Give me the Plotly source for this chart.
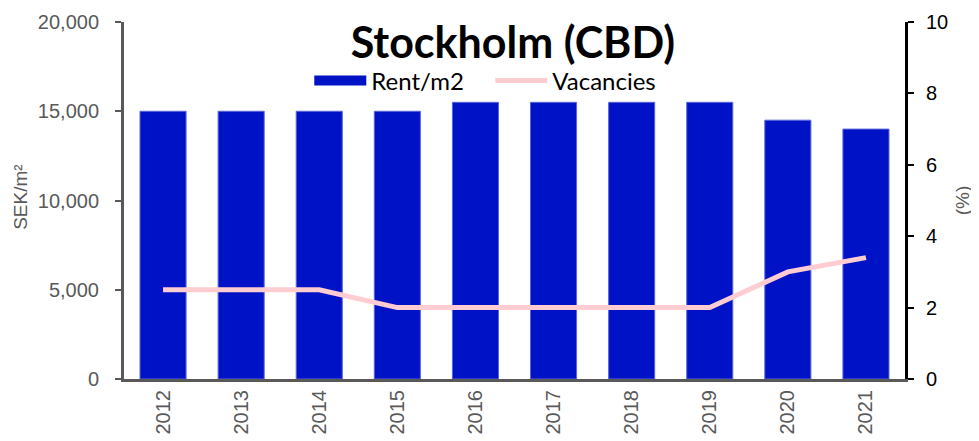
import plotly.graph_objects as go

years = ['2012', '2013', '2014', '2015', '2016', '2017', '2018', '2019', '2020', '2021']
rent = [15000, 15000, 15000, 15000, 15500, 15500, 15500, 15500, 14500, 14000]
vacancies = [2.5, 2.5, 2.5, 2.0, 2.0, 2.0, 2.0, 2.0, 3.0, 3.4]

GREY = '#595959'
BLUE = '#0012C6'
PINK = '#FFCCD2'

fig = go.Figure()
fig.add_trace(go.Bar(
    x=years, y=rent, name='Rent/m2', showlegend=False,
    marker=dict(color=BLUE, line=dict(color='#5a66dd', width=1)),
    width=0.59
))
# legend entry only: a wide block like the original, drawn on a hidden axis out of view
fig.add_trace(go.Scatter(
    x=years, y=rent, name='Rent/m2', yaxis='y3', hoverinfo='skip',
    mode='lines', line=dict(color=BLUE, width=14)
))
fig.add_trace(go.Scatter(
    x=years, y=vacancies, name='Vacancies', yaxis='y2',
    mode='lines', line=dict(color=PINK, width=5)
))

fig.update_layout(
    width=971, height=433,
    margin=dict(l=116, r=74, t=14, b=62),
    paper_bgcolor='white', plot_bgcolor='white',
    font=dict(family='Liberation Sans, Arial', color=GREY),
    title=dict(text='<b>Stockholm (CBD)</b>', x=0.52, xanchor='center', y=0.92, yanchor='middle',
               font=dict(family='Lato, Open Sans', size=43, color='black')),
    legend=dict(orientation='h', x=0.469, xanchor='center', y=0.835, yanchor='middle',
                font=dict(family='Lato, Open Sans', size=24, color='black'),
                bgcolor='rgba(0,0,0,0)', itemwidth=52, entrywidth=114, itemclick=False),
    xaxis=dict(type='category', tickangle=-90, showline=True, linecolor=GREY, linewidth=3,
               ticks='', tickfont=dict(size=20, color=GREY), showgrid=False, automargin=False),
    yaxis=dict(range=[0, 20000], tickvals=[0, 5000, 10000, 15000, 20000], tickformat=',',
               showline=True, linecolor=GREY, linewidth=3, ticks='outside', ticklen=6,
               tickcolor=GREY, tickwidth=2, showgrid=False, zeroline=False, automargin=False,
               tickfont=dict(size=20, color=GREY), ticklabelstandoff=12),
    yaxis2=dict(range=[0, 10], tickvals=[0, 2, 4, 6, 8, 10], overlaying='y', side='right',
                showline=True, linecolor='black', linewidth=3, ticks='outside', ticklen=6,
                tickcolor='black', tickwidth=2, showgrid=False, zeroline=False, automargin=False,
                tickfont=dict(size=20, color='black'), ticklabelstandoff=8),
    yaxis3=dict(range=[100000, 200000], overlaying='y', visible=False),
    annotations=[
        dict(text='SEK/m²', xref='paper', yref='paper', x=-0.148, y=0.51, textangle=-90,
             showarrow=False, font=dict(size=19, color=GREY)),
        dict(text='(%)', xref='paper', yref='paper', x=1.09, y=0.5, textangle=-90,
             showarrow=False, font=dict(size=19, color=GREY)),
    ],
)

fig.write_html('out.html')
